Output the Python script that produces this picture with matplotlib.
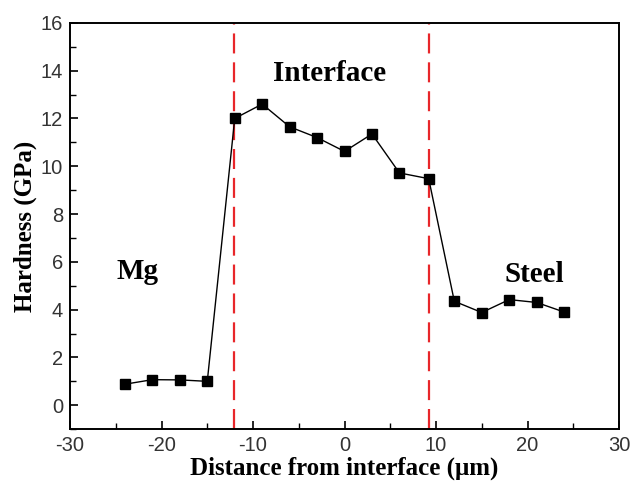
import matplotlib
matplotlib.use("Agg")
import matplotlib.pyplot as plt
from matplotlib.ticker import MultipleLocator

plt.rcParams["axes.unicode_minus"] = False

distance = [-24, -21, -18, -15, -12, -9, -6, -3, 0, 3, 6, 9.2, 12, 15, 18, 21, 24]
hardness = [0.88, 1.07, 1.06, 1.0, 12.0, 12.6, 11.65, 11.2, 10.62, 11.35, 9.72, 9.48,
            4.35, 3.88, 4.42, 4.3, 3.9]
boundaries = [-12.1, 9.2]
region_labels = ["Mg", "Interface", "Steel"]
region_pos = [(-22.6, 5.6), (-1.6, 13.9), (20.7, 5.45)]

fig = plt.figure(figsize=(6.31, 4.86), dpi=100)
ax = fig.add_axes([0.111, 0.117, 0.870, 0.836])

ax.plot(distance, hardness, color="black", lw=1.0, marker="s", ms=7,
        markerfacecolor="black", markeredgecolor="black", zorder=3)
for b in boundaries:
    ax.axvline(b, color="#e8262a", lw=1.6, dashes=(9, 4), zorder=2)

serif = ["Liberation Serif", "DejaVu Serif"]
for lab, (x, y) in zip(region_labels, region_pos):
    ax.text(x, y, lab, fontsize=21, fontweight="bold", family=serif,
            ha="center", va="center")

ax.set_xlim(-30, 30)
ax.set_ylim(-1, 16)
ax.xaxis.set_major_locator(MultipleLocator(10))
ax.xaxis.set_minor_locator(MultipleLocator(5))
ax.yaxis.set_major_locator(MultipleLocator(2))
ax.yaxis.set_minor_locator(MultipleLocator(1))
ax.tick_params(which="both", direction="in", top=False, right=False)
ax.tick_params(which="major", length=6, width=1.2, labelsize=14.5, pad=5)
ax.tick_params(which="minor", length=4, width=1.0)
for lbl in ax.get_xticklabels() + ax.get_yticklabels():
    lbl.set_family(["Liberation Sans", "DejaVu Sans"])
    lbl.set_color("#333333")
for s in ax.spines.values():
    s.set_linewidth(1.4)

ax.set_xlabel("Distance from interface (\u03bcm)", fontsize=18, fontweight="bold",
              family=serif, labelpad=1)
ax.set_ylabel("Hardness (GPa)", fontsize=18, fontweight="bold", family=serif,
              labelpad=3)

fig.savefig("out.png", dpi=100)
